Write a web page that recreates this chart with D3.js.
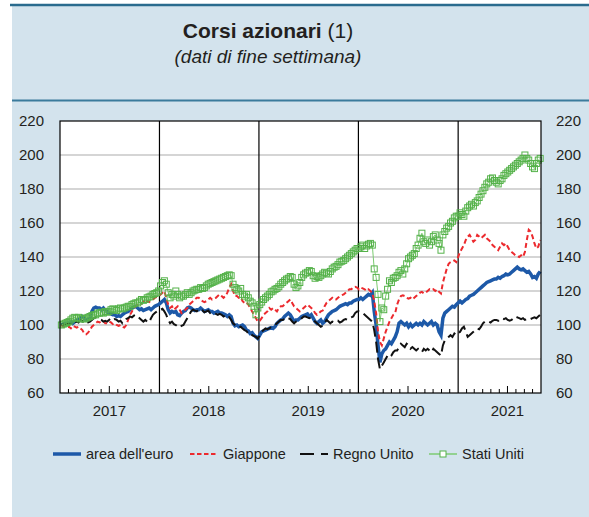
<!DOCTYPE html>
<html>
<head>
<meta charset="utf-8">
<script src="https://d3js.org/d3.v7.min.js"></script>
<style>
    body { margin: 0; background: #fff; font-family: "Liberation Sans", Arial, sans-serif; }
    text { fill: #231f20; }
    .grid-line { stroke: #ababab; stroke-width: 1.2px; }
    .year-line { stroke: #000; stroke-width: 1.2px; }
    .tick-mark { stroke: #000; stroke-width: 1px; }
</style>
</head>
<body>
<script>
    // weekly data (Fridays), 2017-01-06 .. 2021-10-29
    var weeks = d3.timeFriday.range(new Date(2017, 0, 6), new Date(2021, 9, 30));

    var euroArea = [
        // 2017
        100,100.5,101,101, 101.5,102,101,102, 103,103.5,104,105, 104,103,103.5,104,
        108,110,110.5,110, 110,109,110,108.5, 108,107,106.5,106, 106,105,105.5,105,
        106,107,107.5,108, 109,110,110.5,111, 110,109,109.5,108.5, 109,109.5,110,109,
        110,111,111.5,112,
        // 2018
        113,114,115,113, 109,107,108,107.5, 108,106,105.5,107, 108,108.5,110,110.5,
        110,109,108.5,109, 109,110,109,108, 108.5,109,108,108, 107,107.5,108,107,
        107,106.5,106,105, 106,105,101,99.5, 100,99,99.5,100, 99,97,96.5,95,
        95.5,94,93,92,
        // 2019
        94,96,96.5,97, 97.5,98,98.5,98, 99,101,102,103, 103.5,105,106,107,
        106,104,102,103, 103,104,105,105.5, 106,106.5,105,106, 104,102,101,102,
        103,101,102,104, 106,107,108,108.5, 109,110,111,111.5, 112,112.5,112,113,
        113,114,114.5,115,
        // 2020
        115,116,115,116, 117,118,117.5,119, 108,100,88,78, 83,85,86,88,
        90,89,91,93, 96,101,102,101, 100,101,99,100.5, 99,100,101,100,
        101,100,102,101, 100,101,102,100, 101,100,96,94, 104,107,108,109,
        110,111,110.5,112,
        // 2021
        113,114,113,114, 115,115.5,117,117.5, 118,119,120,121, 122,123,124,125,
        125.5,126,126.5,127, 127,128,127.5,128.5, 129,130,129.5,130, 131,132,133,134,
        133,132.5,133,132, 131,131.5,130,128, 128.5,127.5,130,131.5
    ];

    var japan = [
        // 2017
        100,99,99.5,98.5, 99,98,99.5,99, 98.5,99,98,97, 95,94.5,95.5,97,
        99,100,101,102, 101.5,102,102.5,101, 101,102,101.5,100.5, 101,100,99.5,100,
        99,98.5,100,103, 106,108,110,111, 112,113,112.5,114, 113,114,113.5,114.5,
        115,116,116.5,117,
        // 2018
        118,119,120,116, 112,110,111,109, 110,111,109,107, 108,109,110,112,
        113,114,115,116, 116,115,114,113.5, 114,115,116,115, 115.5,116,117,118,
        117,116,117,119, 122,124,120,117, 117,116,116.5,114, 113,113.5,112,110,
        108,106,104,102,
        // 2019
        102.5,104,106,107, 108,110,109,110, 109,108,110,111, 111,112,113,114,
        115,113,111,110, 109,108,109,110, 111,112,111,110, 109,107,106,107,
        108,108.5,111,113, 114,115,116,115, 115,116,117,117.5, 118,119,120,121,
        121,122,122.5,122,
        // 2020
        121,122,121.5,121, 120,121,120,119, 114,107,96,90, 88,92,96,99,
        102,104,106,107, 112,115,117,117.5, 117,116,115.5,116, 115,116,117,118,
        119,119.5,118.5,119, 120,121,120.5,121, 120,121,119.5,118.5, 125,129,133,136,
        137,137.5,138,137,
        // 2021
        140,143,145,147, 150,152,153,151, 149,150,153,152, 151,152,153,151,
        150,149,147,146, 145,144,146,148, 147,148,146,144, 143,142,141,140.5,
        140,141,140,143, 150,156,155,152, 148,145,146,150
    ];

    var unitedKingdom = [
        // 2017
        100,100.5,100,101, 100.5,101,102,101.5, 102,101.5,103,102.5, 101,102,101.5,102,
        103,104,104.5,104, 103.5,103,102,102.5, 102,103,104,103, 103.5,103,102,102.5,
        101,102,103.5,104, 105,104.5,105.5,106, 105,104,103,102, 103,102,101.5,104,
        106,107,108,109,
        // 2018
        109,109.5,108,106, 103,101,102,100.5, 100,99,98.5,99.5, 100,102,104,106,
        108,109,108.5,108, 109,108,108.5,107.5, 108,108.5,107,107.5, 107,106.5,106,106.5,
        106,105,105.5,104, 104.5,103,101,100, 99,98.5,99,98, 97,96.5,95,95.5,
        94,93.5,93,92,
        // 2019
        94,96,97,98, 97.5,98,99,99.5, 100,101,102,103, 103,103.5,103,104,
        103.5,102,101,102, 102.5,103,104,105, 105,104.5,104,104.5, 103,102,101,100,
        99,99.5,101,103, 102,101,102,101.5, 102,102.5,101.5,102, 103,103.5,103,104,
        104.5,105,107,108,
        // 2020
        108,107.5,107,106, 105,104,103,102, 97,90,80,74, 76,78,80,82,
        81,82,84,85, 85,87,89,88, 87,89,88,86, 87,86,85,86,
        85,84,86,85, 86,85,84,86, 85,84,83,82, 88,91,92,93,
        94,93,95,94,
        // 2021
        95,96,98,99, 96,93,94,95, 96,97,98,97.5, 99,101,102,101.5,
        102,101.5,102.5,103, 103,102.5,103.5,104, 103.5,104,103,102.5, 103,104,105,104.5,
        104,103.5,104,103, 103.5,104,103.5,104, 104.5,104,105,106
    ];

    var unitedStates = [
        // 2017
        100,100.5,101,101.5, 102,103,104,104.5, 104,104.5,103.5,104, 103.5,104,104.5,105,
        105.5,106,106,107, 107,107.5,107,108, 107.5,108,109,109.5, 109,108.5,109.5,110,
        109.5,110,110.5,111, 111,112,112.5,113, 113,114,115,114.5, 115,116,116.5,117,
        118,118.5,119,120,
        // 2018
        123,125,126,124, 119,116,118,117, 120,118,116,117, 117,118,119,118,
        119,120,120.5,121, 121,122,121.5,122, 123,124,124.5,125, 125.5,126,126.5,127,
        127.5,128,128.5,129, 129.5,129,124,122, 121,120,121.5,118, 117,118,116,114,
        113,111,106,110,
        // 2019
        112,113.5,115,116, 117,118,119.5,120, 121,121.5,122.5,124, 125,126,127,127.5,
        128.5,128,124,122, 123,125,128,129.5, 130.5,131,132,131.5, 129,127.5,128.5,128,
        129,130,131,130.5, 130,131.5,133,134, 134.5,135.5,137,137.5, 138,139,140,141,
        142,143,144,145,
        // 2020
        145,146,147,145, 146.5,147.5,148,147, 133,128,118,102, 110,109,117,121,
        126,125,127.5,128, 129,131,132,130, 133,136,139,140, 141,142,145,147,
        151,154,149,148, 150,147,149,152, 153,150,148,144, 153,155,157,158,
        160,161,163,164,
        // 2021
        164,166,165,164, 167,169,170,171, 170,172,173,175, 177,179,181,183,
        184,186,186.5,185, 184,183,185,186, 188,189,190,191, 192,193,194,195,
        196,197,198,200, 198,197,195,193, 192,195,197,198
    ];

    var yTicks = [60, 80, 100, 120, 140, 160, 180, 200, 220];
    var yearLabels = ["2017", "2018", "2019", "2020", "2021"];

    var width = 589, height = 517;
    var plot = {left: 60, right: 541, top: 121, bottom: 393};

    var svg = d3.select("body").append("svg")
        .attr("width", width)
        .attr("height", height);

    // panel
    svg.append("rect")
        .attr("x", 12).attr("y", 4)
        .attr("width", width - 12).attr("height", height - 4)
        .attr("fill", "#d3e3ed");
    svg.append("line")
        .attr("x1", 10).attr("x2", width).attr("y1", 5).attr("y2", 5)
        .attr("stroke", "#2a6b8e").attr("stroke-width", 2.5);
    svg.append("line")
        .attr("x1", 12).attr("x2", width).attr("y1", 100.5).attr("y2", 100.5)
        .attr("stroke", "#3b7b9c").attr("stroke-width", 2);

    // title
    var title = svg.append("text")
        .attr("x", 268).attr("y", 38)
        .attr("text-anchor", "middle")
        .style("font-size", "21px");
    title.append("tspan").style("font-weight", "bold").text("Corsi azionari");
    title.append("tspan").text(" (1)");

    svg.append("text")
        .attr("x", 268).attr("y", 63)
        .attr("text-anchor", "middle")
        .style("font-size", "19px")
        .style("font-style", "italic")
        .text("(dati di fine settimana)");

    var x = d3.scaleTime()
        .domain([new Date(2017, 0, 1), new Date(2021, 10, 1)])
        .range([plot.left, plot.right]);

    var y = d3.scaleLinear()
        .domain([60, 220])
        .range([plot.bottom, plot.top]);

    svg.append("rect")
        .attr("x", plot.left).attr("y", plot.top)
        .attr("width", plot.right - plot.left)
        .attr("height", plot.bottom - plot.top)
        .attr("fill", "#fff");

    // grid
    svg.append("g").selectAll("line")
        .data(yTicks.slice(1, -1))
        .enter().append("line")
        .attr("class", "grid-line")
        .attr("x1", plot.left).attr("x2", plot.right)
        .attr("y1", function(d) { return y(d); })
        .attr("y2", function(d) { return y(d); });

    // month ticks
    var months = d3.timeMonth.range(new Date(2017, 0, 1), new Date(2021, 10, 1))
        .filter(function(d) { return d.getMonth() != 0; });
    svg.append("g").selectAll("line")
        .data(months)
        .enter().append("line")
        .attr("class", "tick-mark")
        .attr("x1", function(d) { return x(d); })
        .attr("x2", function(d) { return x(d); })
        .attr("y1", plot.bottom)
        .attr("y2", function(d) { return plot.bottom - (d.getMonth() == 6 ? 7 : 4); });

    // year separators
    var yearStarts = d3.timeYear.range(new Date(2018, 0, 1), new Date(2021, 1, 1));
    svg.append("g").selectAll("line")
        .data(yearStarts)
        .enter().append("line")
        .attr("class", "year-line")
        .attr("x1", function(d) { return x(d); })
        .attr("x2", function(d) { return x(d); })
        .attr("y1", plot.top).attr("y2", plot.bottom);

    // year labels
    svg.append("g").selectAll("text")
        .data(yearLabels)
        .enter().append("text")
        .attr("x", function(d) { return x(new Date(+d, 6, 1)); })
        .attr("y", 416)
        .attr("text-anchor", "middle")
        .style("font-size", "15px")
        .text(function(d) { return d; });

    // y labels both sides
    svg.append("g").selectAll("text")
        .data(yTicks)
        .enter().append("text")
        .attr("x", 44)
        .attr("y", function(d) { return y(d) + 5; })
        .attr("text-anchor", "end")
        .style("font-size", "15px")
        .text(function(d) { return d; });
    svg.append("g").selectAll("text")
        .data(yTicks)
        .enter().append("text")
        .attr("x", 556)
        .attr("y", function(d) { return y(d) + 5; })
        .style("font-size", "15px")
        .text(function(d) { return d; });

    var line = d3.line()
        .x(function(d) { return x(d[0]); })
        .y(function(d) { return y(d[1]); });

    function pairs(values) {
        return values.map(function(v, i) { return [weeks[i], v]; })
            .filter(function(d) { return d[0] !== undefined; });
    }

    var g = svg.append("g");

    g.append("path")
        .attr("d", line(pairs(euroArea)))
        .attr("fill", "none").attr("stroke", "#1d59a8").attr("stroke-width", 3.5);

    g.append("path")
        .attr("d", line(pairs(japan)))
        .attr("fill", "none").attr("stroke", "#ec2a2e").attr("stroke-width", 2)
        .attr("stroke-dasharray", "5,3");

    g.append("path")
        .attr("d", line(pairs(unitedKingdom)))
        .attr("fill", "none").attr("stroke", "#111").attr("stroke-width", 2)
        .attr("stroke-dasharray", "11,5");

    g.append("path")
        .attr("d", line(pairs(unitedStates)))
        .attr("fill", "none").attr("stroke", "#7ccb72").attr("stroke-width", 1);

    g.selectAll("rect.us")
        .data(pairs(unitedStates))
        .enter().append("rect")
        .attr("class", "us")
        .attr("x", function(d) { return x(d[0]) - 3; })
        .attr("y", function(d) { return y(d[1]) - 3; })
        .attr("width", 6).attr("height", 6)
        .attr("fill", "none")
        .attr("stroke", "#55b24a").attr("stroke-width", 1);

    // frame
    svg.append("rect")
        .attr("x", plot.left).attr("y", plot.top)
        .attr("width", plot.right - plot.left)
        .attr("height", plot.bottom - plot.top)
        .attr("fill", "none").attr("stroke", "#000").attr("stroke-width", 1.2);

    // legend
    var legendItems = [
        {label: "area dell'euro", x: 53, color: "#1d59a8", w: 3.5, dash: null},
        {label: "Giappone", x: 190, color: "#ec2a2e", w: 2, dash: "4.5,2.5"},
        {label: "Regno Unito", x: 300, color: "#111", w: 2, dash: "14,7"},
        {label: "Stati Uniti", x: 429, color: "#7ccb72", w: 1.5, dash: null}
    ];
    var legend = svg.append("g");
    legend.selectAll("line")
        .data(legendItems)
        .enter().append("line")
        .attr("x1", function(d) { return d.x; })
        .attr("x2", function(d) { return d.x + 28; })
        .attr("y1", 454).attr("y2", 454)
        .attr("stroke", function(d) { return d.color; })
        .attr("stroke-width", function(d) { return d.w; })
        .attr("stroke-dasharray", function(d) { return d.dash; });
    legend.append("rect")
        .attr("x", 440).attr("y", 451)
        .attr("width", 6).attr("height", 6)
        .attr("fill", "#fff").attr("stroke", "#55b24a");
    legend.selectAll("text")
        .data(legendItems)
        .enter().append("text")
        .attr("x", function(d) { return d.x + 33; })
        .attr("y", 459)
        .style("font-size", "14.5px")
        .text(function(d) { return d.label; });
</script>
</body>
</html>
